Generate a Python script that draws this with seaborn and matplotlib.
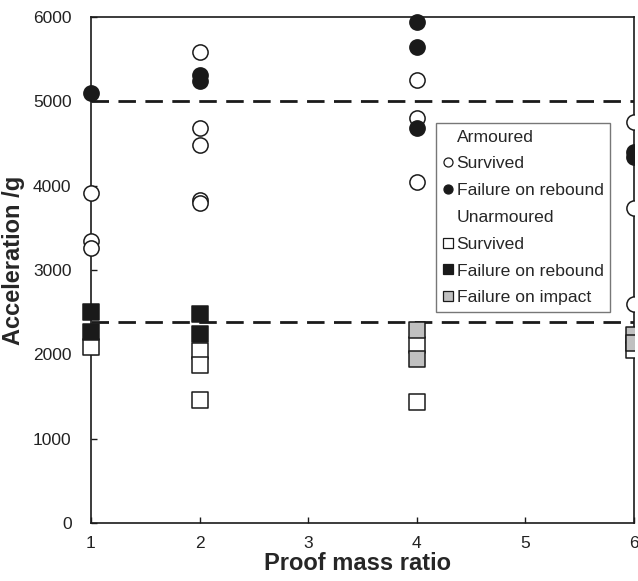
import matplotlib
matplotlib.use("Agg")
import matplotlib.pyplot as plt
import matplotlib.patches as mpatches
from matplotlib.lines import Line2D
import seaborn as sns
import pandas as pd

# ---- data ----
arm_surv_x = [1, 1, 1, 2, 2, 2, 2, 2, 4, 4, 4, 6, 6, 6]
arm_surv_y = [3910, 3350, 3260, 5585, 4680, 4480, 3830, 3800, 5250, 4800, 4045, 4750, 3740, 2600]
arm_fail_x = [1, 2, 2, 4, 4, 4, 6, 6]
arm_fail_y = [5100, 5310, 5240, 5940, 5645, 4680, 4400, 4340]
unarm_surv_x = [1, 2, 2, 2, 4, 4, 6]
unarm_surv_y = [2090, 2040, 1875, 1460, 2115, 1435, 2050]
unarm_fail_x = [1, 1, 2, 2]
unarm_fail_y = [2500, 2260, 2480, 2240]
unarm_imp_x = [4, 4, 6, 6]
unarm_imp_y = [2290, 1945, 2230, 2135]
thresholds = [5000, 2380]
x_ticks = [1, 2, 3, 4, 5, 6]
y_ticks = [0, 1000, 2000, 3000, 4000, 5000, 6000]

sns.set_style("white")
plt.rcParams['font.family'] = ['Liberation Sans', 'DejaVu Sans']

fig = plt.figure(figsize=(6.38, 5.81), dpi=100)
ax = fig.add_axes([0.1426, 0.0998, 0.8511, 0.8709])

GRAY = "#c0c0c0"
BLACK = "#1a1a1a"
S = 120

groups = [
    (unarm_surv_x, unarm_surv_y, "s", "white"),
    (unarm_imp_x, unarm_imp_y, "s", GRAY),
    (unarm_fail_x, unarm_fail_y, "s", BLACK),
    (arm_surv_x, arm_surv_y, "o", "white"),
    (arm_fail_x, arm_fail_y, "o", BLACK),
]

for xs, ys, mk, fc in groups:
    df = pd.DataFrame({"x": xs, "y": ys})
    sns.scatterplot(data=df, x="x", y="y", marker=mk, color=fc, edgecolor=BLACK,
                    linewidth=1.1, s=S, ax=ax, zorder=3, legend=False)

for t in thresholds:
    ax.axhline(t, color=BLACK, lw=2.0, ls=(0, (6.3, 3.4)), zorder=2)

ax.set_xlim(1, 6)
ax.set_ylim(0, 6000)
ax.set_xticks(x_ticks)
ax.set_yticks(y_ticks)
ax.tick_params(axis="both", direction="in", length=4, width=1, colors=BLACK,
               labelsize=12.5, bottom=True, left=True, top=False, right=False)
ax.tick_params(axis="y", pad=14)
ax.tick_params(axis="x", pad=9)
ax.tick_params(axis="both", labelcolor="#222222")
for sp in ax.spines.values():
    sp.set_color(BLACK)
    sp.set_linewidth(1.2)
    sp.set_visible(True)

ax.set_xlabel("Proof mass ratio", fontsize=17, fontweight="bold")
ax.set_ylabel("Acceleration /g", fontsize=17, fontweight="bold")
ax.xaxis.set_label_coords(0.49, -0.058)
ax.yaxis.set_label_coords(-0.122, 0.52)

# clip markers on the right side only
clip_rect = mpatches.Rectangle((-0.2, -0.1), 1.2, 1.2, transform=ax.transAxes)
for coll in ax.collections:
    coll.set_clip_path(clip_rect)

empty = Line2D([], [], linestyle="none", marker=None)
ms = 6.5
handles = [
    empty,
    Line2D([], [], ls="none", marker="o", mfc="white", mec=BLACK, ms=ms, mew=0.9),
    Line2D([], [], ls="none", marker="o", mfc=BLACK, mec=BLACK, ms=ms, mew=0.9),
    empty,
    Line2D([], [], ls="none", marker="s", mfc="white", mec=BLACK, ms=ms, mew=0.9),
    Line2D([], [], ls="none", marker="s", mfc=BLACK, mec=BLACK, ms=ms, mew=0.9),
    Line2D([], [], ls="none", marker="s", mfc=GRAY, mec=BLACK, ms=ms, mew=0.9),
]
labels = ["Armoured", "Survived", "Failure on rebound", "Unarmoured",
          "Survived", "Failure on rebound", "Failure on impact"]
leg = ax.legend(handles, labels, loc="upper left", bbox_to_anchor=(0.6354, 0.7913),
                fontsize=12.6, frameon=True, fancybox=False, handlelength=0.6,
                handletextpad=0.2, labelspacing=0.66, borderpad=0.38,
                borderaxespad=0)
leg.get_frame().set_edgecolor("#555555")
leg.get_frame().set_linewidth(1.0)
leg.set_zorder(5)

fig.savefig("out.png", dpi=100)
